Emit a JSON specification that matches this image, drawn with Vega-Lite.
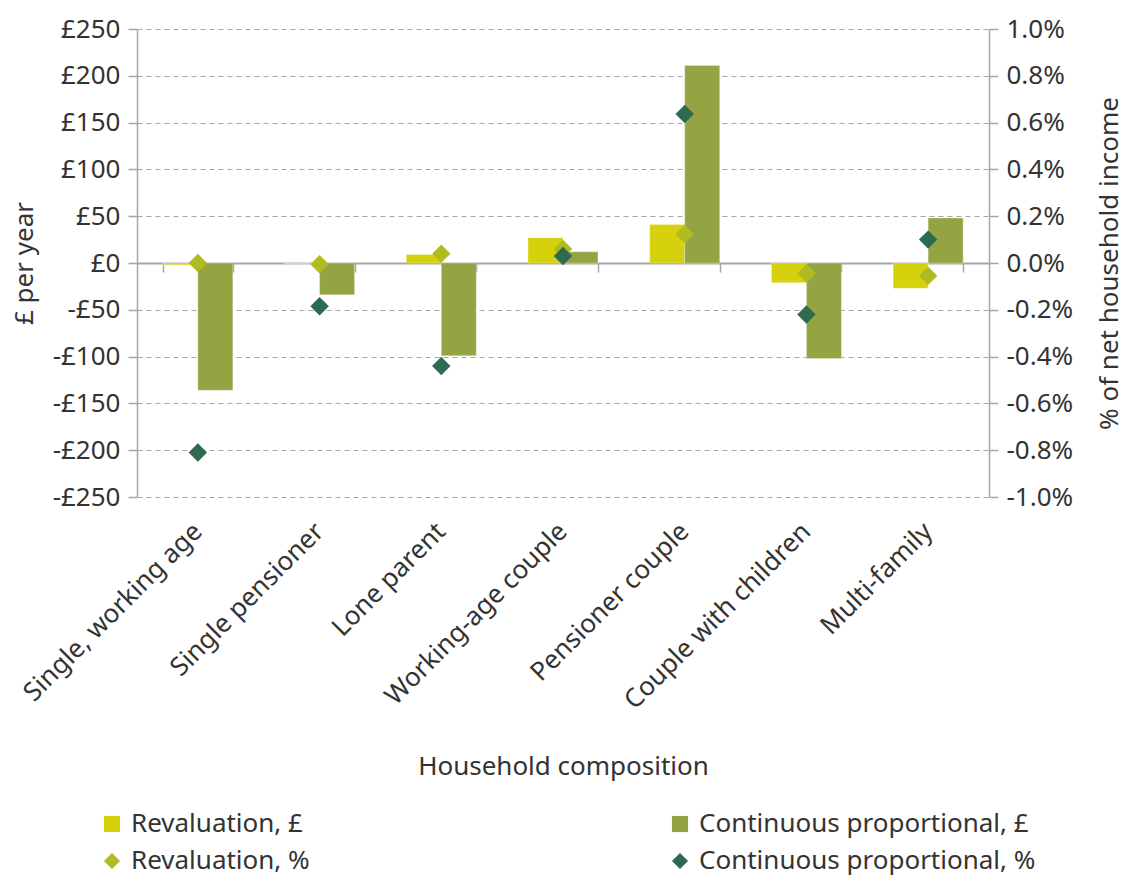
{
  "$schema": "https://vega.github.io/schema/vega-lite/v6.json",
  "width": 852,
  "height": 468,
  "padding": {"left": 11, "top": 16, "right": 10, "bottom": 5},
  "background": "white",
  "config": {
    "font": "Noto Sans",
    "view": {"stroke": null},
    "axis": {"labelFont": "Noto Sans", "titleFont": "Noto Sans", "labelColor": "#333333", "titleColor": "#333333", "labelFontSize": 26, "titleFontSize": 26, "titleFontWeight": "normal", "domainColor": "#a6a6a6", "tickColor": "#a6a6a6", "domainWidth": 1.5, "tickWidth": 1.5},
    "legend": {"labelFont": "Noto Sans", "labelFontSize": 26, "labelColor": "#333333", "labelLimit": 500}
  },
  "data": {
    "values": [
      {"group": "Single, working age", "unit": "gbp", "series": "Revaluation, £", "value": -2},
      {"group": "Single, working age", "unit": "gbp", "series": "Continuous proportional, £", "value": -136},
      {"group": "Single, working age", "unit": "pct", "series": "Revaluation, %", "value": 0.0},
      {"group": "Single, working age", "unit": "pct", "series": "Continuous proportional, %", "value": -0.0081},
      {"group": "Single pensioner", "unit": "gbp", "series": "Revaluation, £", "value": -1},
      {"group": "Single pensioner", "unit": "gbp", "series": "Continuous proportional, £", "value": -34},
      {"group": "Single pensioner", "unit": "pct", "series": "Revaluation, %", "value": -0.00005},
      {"group": "Single pensioner", "unit": "pct", "series": "Continuous proportional, %", "value": -0.00185},
      {"group": "Lone parent", "unit": "gbp", "series": "Revaluation, £", "value": 9},
      {"group": "Lone parent", "unit": "gbp", "series": "Continuous proportional, £", "value": -99},
      {"group": "Lone parent", "unit": "pct", "series": "Revaluation, %", "value": 0.0004},
      {"group": "Lone parent", "unit": "pct", "series": "Continuous proportional, %", "value": -0.0044},
      {"group": "Working-age couple", "unit": "gbp", "series": "Revaluation, £", "value": 27},
      {"group": "Working-age couple", "unit": "gbp", "series": "Continuous proportional, £", "value": 12},
      {"group": "Working-age couple", "unit": "pct", "series": "Revaluation, %", "value": 0.0006},
      {"group": "Working-age couple", "unit": "pct", "series": "Continuous proportional, %", "value": 0.0003},
      {"group": "Pensioner couple", "unit": "gbp", "series": "Revaluation, £", "value": 41},
      {"group": "Pensioner couple", "unit": "gbp", "series": "Continuous proportional, £", "value": 211},
      {"group": "Pensioner couple", "unit": "pct", "series": "Revaluation, %", "value": 0.00124},
      {"group": "Pensioner couple", "unit": "pct", "series": "Continuous proportional, %", "value": 0.00637},
      {"group": "Couple with children", "unit": "gbp", "series": "Revaluation, £", "value": -21},
      {"group": "Couple with children", "unit": "gbp", "series": "Continuous proportional, £", "value": -102},
      {"group": "Couple with children", "unit": "pct", "series": "Revaluation, %", "value": -0.00045},
      {"group": "Couple with children", "unit": "pct", "series": "Continuous proportional, %", "value": -0.0022},
      {"group": "Multi-family", "unit": "gbp", "series": "Revaluation, £", "value": -27},
      {"group": "Multi-family", "unit": "gbp", "series": "Continuous proportional, £", "value": 48},
      {"group": "Multi-family", "unit": "pct", "series": "Revaluation, %", "value": -0.00055},
      {"group": "Multi-family", "unit": "pct", "series": "Continuous proportional, %", "value": 0.001}
    ]
  },
  "layer": [
    {
      "transform": [{"filter": "datum.unit == 'gbp'"}],
      "mark": {"type": "bar", "stroke": "white", "strokeWidth": 0.5, "strokeOpacity": 0.6},
      "encoding": {
        "x": {
          "field": "group", "type": "nominal", "sort": null,
          "scale": {"paddingInner": 0.425, "paddingOuter": 0.2125},
          "axis": {"labelAngle": -45, "labelAlign": "right", "labelBaseline": "middle", "labelPadding": 30, "domain": false, "ticks": false, "title": "Household composition", "titlePadding": 56, "labelLimit": 400}
        },
        "xOffset": {"field": "series", "type": "nominal", "scale": {"domain": ["Revaluation, £", "Continuous proportional, £"]}},
        "y": {
          "field": "value", "type": "quantitative",
          "scale": {"domain": [-250, 250], "nice": false, "zero": false},
          "axis": {"values": [-250, -200, -150, -100, -50, 0, 50, 100, 150, 200, 250], "labelExpr": "datum.value < 0 ? '-£' + abs(datum.value) : '£' + datum.value", "grid": true, "gridDash": [5, 4], "gridColor": "#a6a6a6", "gridWidth": 1.2, "tickSize": 9, "labelPadding": 8, "title": "£ per year", "titlePadding": 15}
        },
        "color": {
          "field": "series", "type": "nominal",
          "scale": {"domain": ["Revaluation, £", "Revaluation, %", "Continuous proportional, £", "Continuous proportional, %"], "range": ["#d5d10d", "#b0bb22", "#94a442", "#2e6a4f"]},
          "legend": {"title": null, "orient": "none", "legendX": -38, "legendY": 782, "columns": 2, "columnPadding": 357, "rowPadding": 11, "symbolSize": 260, "symbolStrokeWidth": 0, "labelOffset": 6}
        }
      }
    },
    {
      "transform": [{"filter": "datum.unit == 'pct'"}],
      "mark": {"type": "point", "filled": true, "opacity": 1, "size": 340},
      "encoding": {
        "x": {
          "field": "group", "type": "nominal", "sort": null,
          "axis": {"orient": "bottom", "offset": -234, "labels": false, "title": null, "domain": true, "domainColor": "#a6a6a6", "domainWidth": 2, "ticks": true, "tickBand": "extent", "tickSize": 9, "grid": false}
        },
        "y": {
          "field": "value", "type": "quantitative",
          "scale": {"domain": [-0.01, 0.01], "nice": false, "zero": false},
          "axis": {"orient": "right", "values": [-0.01, -0.008, -0.006, -0.004, -0.002, 0, 0.002, 0.004, 0.006, 0.008, 0.01], "labelExpr": "replace(format(datum.value, '.1%'), '−', '-')", "grid": false, "tickSize": 9, "labelPadding": 8, "title": "% of net household income", "titleAngle": 270, "titleBaseline": "bottom", "titlePadding": 50}
        },
        "color": {"field": "series", "type": "nominal"},
        "shape": {
          "field": "series", "type": "nominal",
          "scale": {"domain": ["Revaluation, £", "Revaluation, %", "Continuous proportional, £", "Continuous proportional, %"], "range": ["square", "diamond", "square", "diamond"]}
        }
      }
    }
  ],
  "resolve": {"scale": {"y": "independent"}, "axis": {"x": "independent"}}
}
